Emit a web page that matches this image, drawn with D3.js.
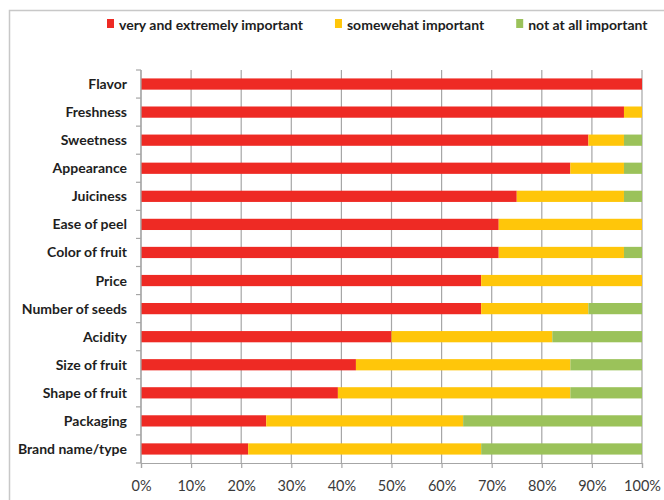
<!DOCTYPE html>
<html>
<head>
<meta charset="utf-8">
<script src="https://cdn.jsdelivr.net/npm/d3@7"></script>
<style>
  body { margin: 0; background: #fff; }
  svg { display: block; }
  text { font-family: Lato, "Open Sans", sans-serif; }
</style>
</head>
<body>
<svg id="chart" width="664" height="500"></svg>
<script>
// Share of respondents rating each fruit attribute (percent)
const categories = ["Flavor", "Freshness", "Sweetness", "Appearance", "Juiciness", "Ease of peel",
  "Color of fruit", "Price", "Number of seeds", "Acidity", "Size of fruit", "Shape of fruit",
  "Packaging", "Brand name/type"];
const veryImportant     = [100, 96.4, 89.3, 85.7, 75.0, 71.4, 71.4, 67.9, 67.9, 50.0, 42.9, 39.3, 25.0, 21.4];
const somewhatImportant = [0,   3.6,  7.1, 10.7, 21.4, 28.6, 25.0, 32.1, 21.4, 32.1, 42.8, 46.4, 39.3, 46.5];
const notImportant      = [0,   0,    3.6,  3.6,  3.6,  0,    3.6,  0,   10.7, 17.9, 14.3, 14.3, 35.7, 32.1];
const seriesNames = ["very and extremely important", "somewehat important", "not at all important"];
const seriesColors = ["#EE2A24", "#FFC60A", "#9BC25A"];
const xTicks = [0, 10, 20, 30, 40, 50, 60, 70, 80, 90, 100];

const svg = d3.select("#chart");
const margin = { left: 141, right: 22, top: 70, bottom: 37 };
const W = 664, H = 500;

// outer chart frame
svg.append("rect")
  .attr("x", 9.5).attr("y", 10.5)
  .attr("width", 700).attr("height", 600)
  .attr("fill", "none").attr("stroke", "#c8c8c8").attr("stroke-width", 1.5);

const x = d3.scaleLinear().domain([0, 100]).range([margin.left, W - margin.right]);
const y = d3.scaleBand().domain(categories).range([margin.top, H - margin.bottom]).paddingInner(0.6).paddingOuter(0.3);
const yBounds = d3.scaleBand().domain(categories).range([margin.top, H - margin.bottom]);

// vertical gridlines
svg.append("g").selectAll("line").data(xTicks).join("line")
  .attr("x1", d => x(d)).attr("x2", d => x(d))
  .attr("y1", margin.top).attr("y2", H - margin.bottom)
  .attr("stroke", "#a6a6a6").attr("stroke-width", 1.2);

// stacked bars
const rows = categories.map((c, i) => ({ cat: c, v: [veryImportant[i], somewhatImportant[i], notImportant[i]] }));
const stack = d3.stack().keys([0, 1, 2]).value((d, k) => d.v[k]);
const layers = stack(rows);
svg.append("g").selectAll("g").data(layers).join("g")
  .attr("fill", (d, i) => seriesColors[i])
  .selectAll("rect").data(d => d).join("rect")
  .attr("x", d => x(d[0]))
  .attr("width", d => Math.max(0, x(d[1]) - x(d[0])))
  .attr("y", d => y(d.data.cat))
  .attr("height", y.bandwidth());

// left axis: line with ticks at category boundaries
const yAxis = svg.append("g");
yAxis.append("line")
  .attr("x1", margin.left).attr("x2", margin.left)
  .attr("y1", margin.top).attr("y2", H - margin.bottom)
  .attr("stroke", "#a6a6a6").attr("stroke-width", 1.2);
const boundaries = categories.map(c => yBounds(c)).concat([H - margin.bottom]);
yAxis.selectAll("line.tick").data(boundaries).join("line").attr("class", "tick")
  .attr("x1", margin.left - 5).attr("x2", margin.left)
  .attr("y1", d => d).attr("y2", d => d)
  .attr("stroke", "#a6a6a6").attr("stroke-width", 1.2);
yAxis.selectAll("text").data(categories).join("text")
  .attr("x", margin.left - 14)
  .attr("y", d => yBounds(d) + yBounds.bandwidth() / 2 + 5)
  .attr("text-anchor", "end")
  .attr("font-size", 14).attr("font-weight", 700).attr("fill", "#1e1e1e")
  .text(d => d);

// bottom axis
const xAxis = svg.append("g").attr("transform", `translate(0,${H - margin.bottom})`)
  .call(d3.axisBottom(x).tickValues(xTicks).tickFormat(d => d + "%").tickSizeOuter(0).tickSize(5).tickPadding(13));
xAxis.select(".domain").attr("stroke", "#a6a6a6").attr("stroke-width", 1.2);
xAxis.selectAll(".tick line").attr("stroke", "#a6a6a6").attr("stroke-width", 1.2);
xAxis.selectAll(".tick text").attr("font-family", "Lato, sans-serif").attr("font-size", 14.5).attr("fill", "#3a3a3a");

// legend laid out left to right
const legend = svg.append("g").attr("transform", "translate(107,0)");
let lx = 0;
seriesNames.forEach((name, i) => {
  legend.append("rect").attr("x", lx).attr("y", 19).attr("width", 7).attr("height", 9).attr("fill", seriesColors[i]);
  const t = legend.append("text").attr("x", lx + 12).attr("y", 30)
    .attr("font-size", 14).attr("font-weight", 700).attr("fill", "#1e1e1e").text(name);
  lx += 12 + t.node().getComputedTextLength() + 32;
});
</script>
</body>
</html>
